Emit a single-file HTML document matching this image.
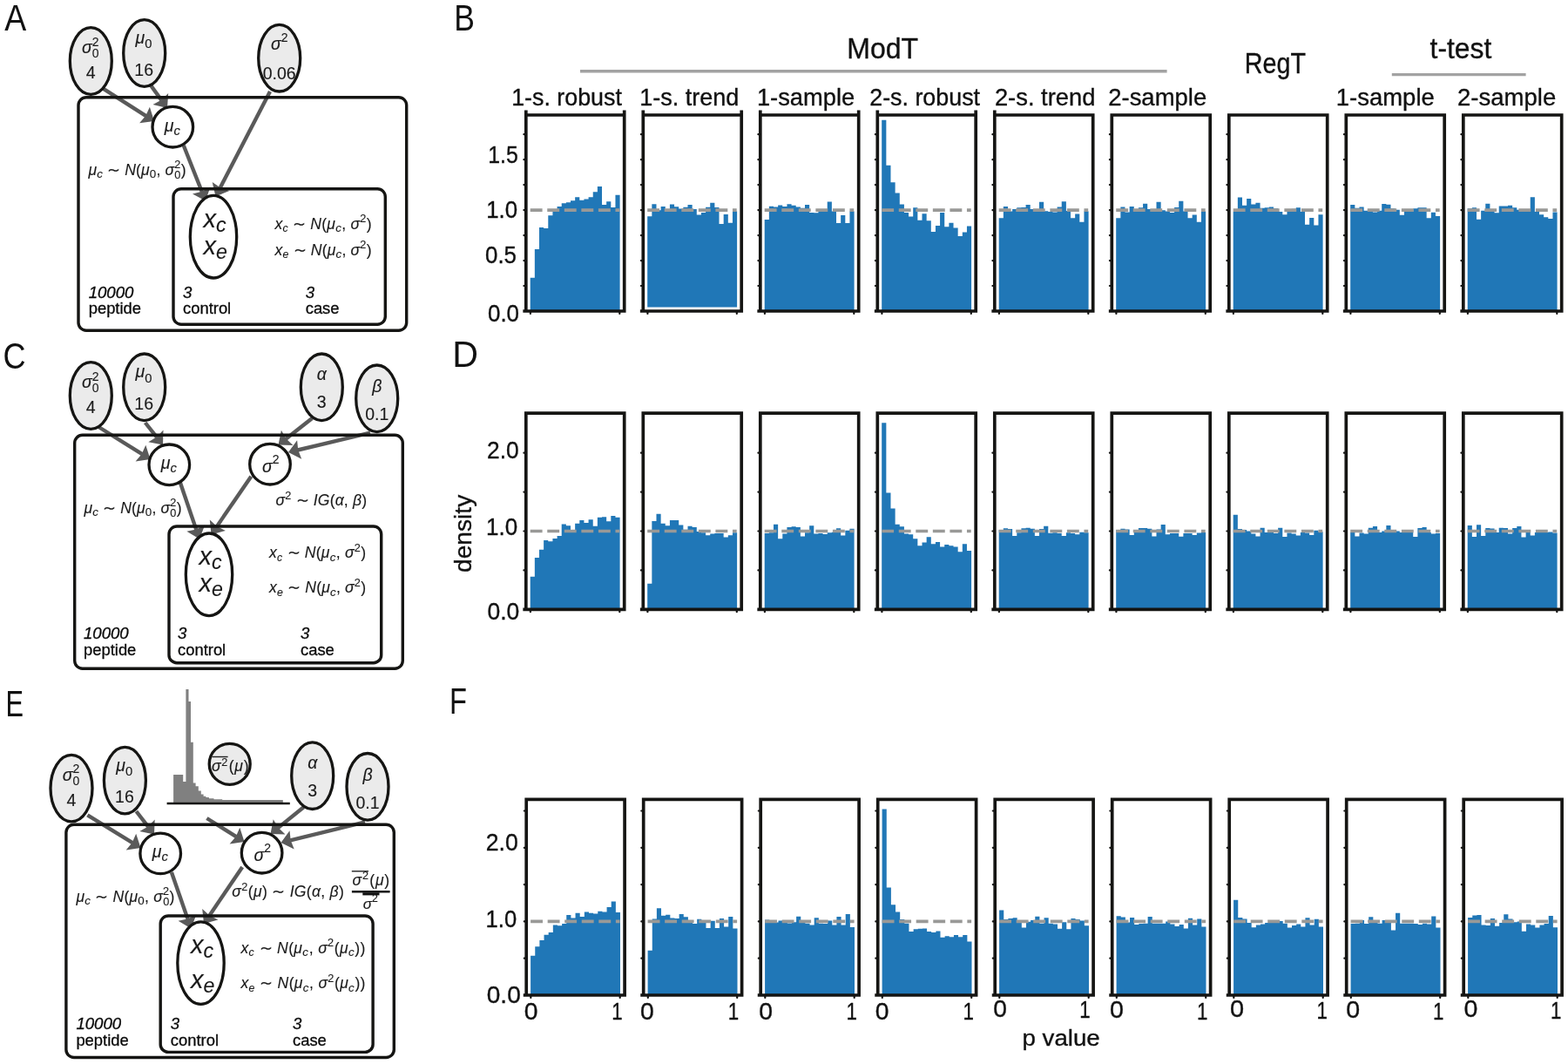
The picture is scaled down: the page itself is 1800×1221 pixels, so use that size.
<!DOCTYPE html>
<html lang="en">
<head>
<meta charset="utf-8">
<title>Figure: p value distributions under simulated models</title>
<style>
html,body{margin:0;padding:0;background:#fff;}
body{width:1800px;height:1221px;overflow:hidden;}
svg{display:block;}
text{font-family:'Liberation Sans', sans-serif;fill:#1a1a1a;}
text.m{fill:#1a1a1a;stroke:#1a1a1a;stroke-width:0.12px;}
text.mc{fill:#0a0a0a;stroke:#0a0a0a;stroke-width:0.3px;}
text.lab{fill:#111;stroke:#111;stroke-width:0.35px;}
text.pl{fill:#111;}
</style>
</head>
<body>
<svg width="1800" height="1221" viewBox="0 0 1800 1221">
<rect width="1800" height="1221" fill="#ffffff"/>
<g class="rowB">
<path d="M608.70,357.00L608.70,318.70L613.84,318.70L613.84,286.00L618.99,286.00L618.99,261.00L624.13,261.00L624.13,262.00L629.28,262.00L629.28,247.20L634.42,247.20L634.42,241.51L639.57,241.51L639.57,237.00L644.71,237.00L644.71,233.30L649.86,233.30L649.86,232.30L655.00,232.30L655.00,230.21L660.15,230.21L660.15,226.20L665.29,226.20L665.29,229.70L670.44,229.70L670.44,228.59L675.58,228.59L675.58,226.30L680.73,226.30L680.73,220.20L685.87,220.20L685.87,214.00L691.02,214.00L691.02,235.00L696.16,235.00L696.16,231.29L701.31,231.29L701.31,237.90L706.45,237.90L706.45,223.70L711.60,223.70L711.60,357.00Z" fill="#2077b7"/>
<line x1="608.70" y1="241.10" x2="711.20" y2="241.10" stroke="#999997" stroke-width="3.7" stroke-dasharray="13.9 5.65"/>
<path d="M601.95,132.00H718.55M600.35,357.00H718.55M603.80,126.50V357.00M716.70,126.50V357.00" stroke="#151513" stroke-width="3.7" fill="none"/>
<path d="M601.40,328.02H603.80M601.40,299.05H603.80M601.40,270.07H603.80M601.40,241.10H603.80M601.40,212.12H603.80M601.40,183.15H603.80M601.40,154.17H603.80M608.90,357.00V359.90M711.30,357.00V359.90" stroke="#151513" stroke-width="2.2" stroke-linecap="round" fill="none"/>
<path d="M743.20,352.40L743.20,248.30L748.34,248.30L748.34,234.30L753.49,234.30L753.49,241.30L758.63,241.30L758.63,237.00L763.78,237.00L763.78,241.20L768.92,241.20L768.92,234.51L774.07,234.51L774.07,237.21L779.21,237.21L779.21,239.50L784.36,239.50L784.36,237.80L789.50,237.80L789.50,235.10L794.65,235.10L794.65,239.89L799.79,239.89L799.79,246.50L804.94,246.50L804.94,244.00L810.08,244.00L810.08,237.80L815.23,237.80L815.23,232.70L820.37,232.70L820.37,238.01L825.52,238.01L825.52,257.00L830.66,257.00L830.66,245.90L835.81,245.90L835.81,255.70L840.95,255.70L840.95,242.50L846.10,242.50L846.10,352.40Z" fill="#2077b7"/>
<line x1="743.20" y1="241.10" x2="845.70" y2="241.10" stroke="#999997" stroke-width="3.7" stroke-dasharray="13.9 5.65"/>
<path d="M736.45,132.00H853.05M734.85,357.00H853.05M738.30,126.50V357.00M851.20,126.50V357.00" stroke="#151513" stroke-width="3.7" fill="none"/>
<path d="M735.90,328.02H738.30M735.90,299.05H738.30M735.90,270.07H738.30M735.90,241.10H738.30M735.90,212.12H738.30M735.90,183.15H738.30M735.90,154.17H738.30M743.40,357.00V359.90M845.80,357.00V359.90" stroke="#151513" stroke-width="2.2" stroke-linecap="round" fill="none"/>
<path d="M877.70,357.00L877.70,252.11L882.84,252.11L882.84,236.81L887.99,236.81L887.99,237.62L893.13,237.62L893.13,235.54L898.28,235.54L898.28,237.04L903.42,237.04L903.42,234.26L908.57,234.26L908.57,235.77L913.71,235.77L913.71,237.62L918.86,237.62L918.86,238.78L924.00,238.78L924.00,235.07L929.15,235.07L929.15,243.88L934.29,243.88L934.29,244.35L939.44,244.35L939.44,242.61L944.58,242.61L944.58,242.61L949.73,242.61L949.73,231.60L954.87,231.60L954.87,242.61L960.02,242.61L960.02,255.94L965.16,255.94L965.16,246.89L970.31,246.89L970.31,255.94L975.45,255.94L975.45,242.61L980.60,242.61L980.60,357.00Z" fill="#2077b7"/>
<line x1="877.70" y1="241.10" x2="980.20" y2="241.10" stroke="#999997" stroke-width="3.7" stroke-dasharray="13.9 5.65"/>
<path d="M870.95,132.00H987.55M869.35,357.00H987.55M872.80,126.50V357.00M985.70,126.50V357.00" stroke="#151513" stroke-width="3.7" fill="none"/>
<path d="M870.40,328.02H872.80M870.40,299.05H872.80M870.40,270.07H872.80M870.40,241.10H872.80M870.40,212.12H872.80M870.40,183.15H872.80M870.40,154.17H872.80M877.90,357.00V359.90M980.30,357.00V359.90" stroke="#151513" stroke-width="2.2" stroke-linecap="round" fill="none"/>
<path d="M1012.20,357.00L1012.20,137.72L1017.34,137.72L1017.34,189.76L1022.49,189.76L1022.49,209.23L1027.63,209.23L1027.63,221.51L1032.78,221.51L1032.78,234.61L1037.92,234.61L1037.92,243.88L1043.07,243.88L1043.07,248.40L1048.21,248.40L1048.21,238.32L1053.36,238.32L1053.36,252.69L1058.50,252.69L1058.50,245.16L1063.65,245.16L1063.65,253.15L1068.79,253.15L1068.79,266.02L1073.94,266.02L1073.94,258.95L1079.08,258.95L1079.08,243.88L1084.23,243.88L1084.23,260.22L1089.38,260.22L1089.38,255.70L1094.52,255.70L1094.52,261.50L1099.66,261.50L1099.66,271.00L1104.81,271.00L1104.81,266.48L1109.95,266.48L1109.95,259.41L1115.10,259.41L1115.10,357.00Z" fill="#2077b7"/>
<line x1="1012.20" y1="241.10" x2="1114.70" y2="241.10" stroke="#999997" stroke-width="3.7" stroke-dasharray="13.9 5.65"/>
<path d="M1005.45,132.00H1122.05M1003.85,357.00H1122.05M1007.30,126.50V357.00M1120.20,126.50V357.00" stroke="#151513" stroke-width="3.7" fill="none"/>
<path d="M1004.90,328.02H1007.30M1004.90,299.05H1007.30M1004.90,270.07H1007.30M1004.90,241.10H1007.30M1004.90,212.12H1007.30M1004.90,183.15H1007.30M1004.90,154.17H1007.30M1012.40,357.00V359.90M1114.80,357.00V359.90" stroke="#151513" stroke-width="2.2" stroke-linecap="round" fill="none"/>
<path d="M1146.70,357.00L1146.70,250.14L1151.85,250.14L1151.85,237.04L1156.99,237.04L1156.99,242.61L1162.13,242.61L1162.13,240.06L1167.28,240.06L1167.28,238.32L1172.42,238.32L1172.42,238.09L1177.57,238.09L1177.57,235.07L1182.71,235.07L1182.71,240.06L1187.86,240.06L1187.86,241.33L1193.00,241.33L1193.00,231.83L1198.15,231.83L1198.15,242.14L1203.30,242.14L1203.30,243.07L1208.44,243.07L1208.44,243.42L1213.59,243.42L1213.59,237.62L1218.73,237.62L1218.73,231.25L1223.88,231.25L1223.88,241.91L1229.02,241.91L1229.02,250.14L1234.16,250.14L1234.16,245.62L1239.31,245.62L1239.31,254.66L1244.45,254.66L1244.45,242.61L1249.60,242.61L1249.60,357.00Z" fill="#2077b7"/>
<line x1="1146.70" y1="241.10" x2="1249.20" y2="241.10" stroke="#999997" stroke-width="3.7" stroke-dasharray="13.9 5.65"/>
<path d="M1139.95,132.00H1256.55M1138.35,357.00H1256.55M1141.80,126.50V357.00M1254.70,132.00V357.00" stroke="#151513" stroke-width="3.7" fill="none"/>
<path d="M1139.40,328.02H1141.80M1139.40,299.05H1141.80M1139.40,270.07H1141.80M1139.40,241.10H1141.80M1139.40,212.12H1141.80M1139.40,183.15H1141.80M1139.40,154.17H1141.80M1146.90,357.00V359.90M1249.30,357.00V359.90" stroke="#151513" stroke-width="2.2" stroke-linecap="round" fill="none"/>
<path d="M1281.20,357.00L1281.20,250.14L1286.35,250.14L1286.35,237.62L1291.49,237.62L1291.49,243.42L1296.63,243.42L1296.63,237.04L1301.78,237.04L1301.78,240.06L1306.92,240.06L1306.92,238.32L1312.07,238.32L1312.07,233.80L1317.21,233.80L1317.21,240.06L1322.36,240.06L1322.36,241.91L1327.50,241.91L1327.50,231.83L1332.65,231.83L1332.65,241.33L1337.80,241.33L1337.80,242.61L1342.94,242.61L1342.94,243.88L1348.09,243.88L1348.09,238.09L1353.23,238.09L1353.23,230.78L1358.38,230.78L1358.38,242.61L1363.52,242.61L1363.52,250.14L1368.66,250.14L1368.66,246.43L1373.81,246.43L1373.81,254.66L1378.95,254.66L1378.95,242.61L1384.10,242.61L1384.10,357.00Z" fill="#2077b7"/>
<line x1="1281.20" y1="241.10" x2="1383.70" y2="241.10" stroke="#999997" stroke-width="3.7" stroke-dasharray="13.9 5.65"/>
<path d="M1274.45,132.00H1391.05M1272.85,357.00H1391.05M1276.30,132.00V357.00M1389.20,132.00V357.00" stroke="#151513" stroke-width="3.7" fill="none"/>
<path d="M1273.90,328.02H1276.30M1273.90,299.05H1276.30M1273.90,270.07H1276.30M1273.90,241.10H1276.30M1273.90,212.12H1276.30M1273.90,183.15H1276.30M1273.90,154.17H1276.30M1281.40,357.00V359.90M1383.80,357.00V359.90" stroke="#151513" stroke-width="2.2" stroke-linecap="round" fill="none"/>
<path d="M1415.70,357.00L1415.70,243.07L1420.85,243.07L1420.85,226.61L1425.99,226.61L1425.99,235.65L1431.13,235.65L1431.13,227.89L1436.28,227.89L1436.28,234.49L1441.42,234.49L1441.42,232.76L1446.57,232.76L1446.57,238.67L1451.71,238.67L1451.71,238.20L1456.86,238.20L1456.86,237.39L1462.00,237.39L1462.00,239.36L1467.15,239.36L1467.15,243.07L1472.30,243.07L1472.30,246.20L1477.44,246.20L1477.44,243.07L1482.59,243.07L1482.59,239.83L1487.73,239.83L1487.73,238.20L1492.88,238.20L1492.88,243.07L1498.02,243.07L1498.02,257.79L1503.16,257.79L1503.16,249.91L1508.31,249.91L1508.31,258.49L1513.45,258.49L1513.45,246.20L1518.60,246.20L1518.60,357.00Z" fill="#2077b7"/>
<line x1="1415.70" y1="241.10" x2="1518.20" y2="241.10" stroke="#999997" stroke-width="3.7" stroke-dasharray="13.9 5.65"/>
<path d="M1408.95,132.00H1525.55M1407.35,357.00H1525.55M1410.80,132.00V357.00M1523.70,132.00V357.00" stroke="#151513" stroke-width="3.7" fill="none"/>
<path d="M1408.40,328.02H1410.80M1408.40,299.05H1410.80M1408.40,270.07H1410.80M1408.40,241.10H1410.80M1408.40,212.12H1410.80M1408.40,183.15H1410.80M1408.40,154.17H1410.80M1415.90,357.00V359.90M1518.30,357.00V359.90" stroke="#151513" stroke-width="2.2" stroke-linecap="round" fill="none"/>
<path d="M1550.20,357.00L1550.20,234.96L1555.35,234.96L1555.35,238.67L1560.49,238.67L1560.49,237.39L1565.63,237.39L1565.63,241.80L1570.78,241.80L1570.78,243.07L1575.92,243.07L1575.92,243.53L1581.07,243.53L1581.07,241.80L1586.21,241.80L1586.21,234.03L1591.36,234.03L1591.36,234.73L1596.50,234.73L1596.50,239.36L1601.65,239.36L1601.65,240.64L1606.80,240.64L1606.80,246.78L1611.94,246.78L1611.94,243.07L1617.09,243.07L1617.09,243.07L1622.23,243.07L1622.23,239.36L1627.38,239.36L1627.38,238.20L1632.52,238.20L1632.52,238.20L1637.66,238.20L1637.66,250.37L1642.81,250.37L1642.81,243.77L1647.95,243.77L1647.95,247.94L1653.10,247.94L1653.10,357.00Z" fill="#2077b7"/>
<line x1="1550.20" y1="241.10" x2="1652.70" y2="241.10" stroke="#999997" stroke-width="3.7" stroke-dasharray="13.9 5.65"/>
<path d="M1543.45,132.00H1660.05M1541.85,357.00H1660.05M1545.30,132.00V357.00M1658.20,132.00V357.00" stroke="#151513" stroke-width="3.7" fill="none"/>
<path d="M1542.90,328.02H1545.30M1542.90,299.05H1545.30M1542.90,270.07H1545.30M1542.90,241.10H1545.30M1542.90,212.12H1545.30M1542.90,183.15H1545.30M1542.90,154.17H1545.30M1550.40,357.00V359.90M1652.80,357.00V359.90" stroke="#151513" stroke-width="2.2" stroke-linecap="round" fill="none"/>
<path d="M1684.70,357.00L1684.70,239.36L1689.85,239.36L1689.85,238.20L1694.99,238.20L1694.99,251.65L1700.13,251.65L1700.13,241.80L1705.28,241.80L1705.28,233.80L1710.42,233.80L1710.42,241.80L1715.57,241.80L1715.57,244.23L1720.71,244.23L1720.71,236.46L1725.86,236.46L1725.86,236.46L1731.00,236.46L1731.00,235.65L1736.15,235.65L1736.15,238.20L1741.30,238.20L1741.30,240.64L1746.44,240.64L1746.44,243.07L1751.59,243.07L1751.59,243.07L1756.73,243.07L1756.73,226.15L1761.88,226.15L1761.88,243.07L1767.02,243.07L1767.02,246.20L1772.16,246.20L1772.16,249.21L1777.31,249.21L1777.31,250.95L1782.45,250.95L1782.45,243.53L1787.60,243.53L1787.60,357.00Z" fill="#2077b7"/>
<line x1="1684.70" y1="241.10" x2="1787.20" y2="241.10" stroke="#999997" stroke-width="3.7" stroke-dasharray="13.9 5.65"/>
<path d="M1677.95,132.00H1794.55M1676.35,357.00H1794.55M1679.80,132.00V357.00M1792.70,132.00V357.00" stroke="#151513" stroke-width="3.7" fill="none"/>
<path d="M1677.40,328.02H1679.80M1677.40,299.05H1679.80M1677.40,270.07H1679.80M1677.40,241.10H1679.80M1677.40,212.12H1679.80M1677.40,183.15H1679.80M1677.40,154.17H1679.80M1684.90,357.00V359.90M1787.30,357.00V359.90" stroke="#151513" stroke-width="2.2" stroke-linecap="round" fill="none"/>
</g>
<g class="rowD">
<path d="M608.70,699.30L608.70,661.85L613.84,661.85L613.84,640.03L618.99,640.03L618.99,630.69L624.13,630.69L624.13,620.01L629.28,620.01L629.28,621.17L634.42,621.17L634.42,617.94L639.57,617.94L639.57,614.89L644.71,614.89L644.71,601.42L649.86,601.42L649.86,603.21L655.00,603.21L655.00,609.50L660.15,609.50L660.15,600.79L665.29,600.79L665.29,596.93L670.44,596.93L670.44,600.07L675.58,600.07L675.58,596.30L680.73,596.30L680.73,603.75L685.87,603.75L685.87,593.78L691.02,593.78L691.02,593.34L696.16,593.34L696.16,598.27L701.31,598.27L701.31,592.08L706.45,592.08L706.45,593.78L711.60,593.78L711.60,699.30Z" fill="#2077b7"/>
<line x1="608.70" y1="609.50" x2="711.20" y2="609.50" stroke="#999997" stroke-width="3.7" stroke-dasharray="13.9 5.65"/>
<path d="M601.95,474.20H718.55M600.35,699.30H718.55M603.80,474.20V699.30M716.70,474.20V699.30" stroke="#151513" stroke-width="3.7" fill="none"/>
<path d="M601.40,654.40H603.80M601.40,609.50H603.80M601.40,564.60H603.80M601.40,519.70H603.80M608.90,699.30V702.20M711.30,699.30V702.20" stroke="#151513" stroke-width="2.2" stroke-linecap="round" fill="none"/>
<path d="M743.20,699.30L743.20,669.85L748.34,669.85L748.34,598.01L753.49,598.01L753.49,589.74L758.63,589.74L758.63,600.79L763.78,600.79L763.78,603.21L768.92,603.21L768.92,597.02L774.07,597.02L774.07,597.02L779.21,597.02L779.21,602.50L784.36,602.50L784.36,607.70L789.50,607.70L789.50,603.75L794.65,603.75L794.65,605.01L799.79,605.01L799.79,610.04L804.94,610.04L804.94,611.30L810.08,611.30L810.08,614.26L815.23,614.26L815.23,612.46L820.37,612.46L820.37,612.01L825.52,612.01L825.52,612.01L830.66,612.01L830.66,616.50L835.81,616.50L835.81,614.26L840.95,614.26L840.95,611.30L846.10,611.30L846.10,699.30Z" fill="#2077b7"/>
<line x1="743.20" y1="609.50" x2="845.70" y2="609.50" stroke="#999997" stroke-width="3.7" stroke-dasharray="13.9 5.65"/>
<path d="M736.45,474.20H853.05M734.85,699.30H853.05M738.30,474.20V699.30M851.20,474.20V699.30" stroke="#151513" stroke-width="3.7" fill="none"/>
<path d="M735.90,654.40H738.30M735.90,609.50H738.30M735.90,564.60H738.30M735.90,519.70H738.30M743.40,699.30V702.20M845.80,699.30V702.20" stroke="#151513" stroke-width="2.2" stroke-linecap="round" fill="none"/>
<path d="M877.70,699.30L877.70,612.01L882.84,612.01L882.84,611.30L887.99,611.30L887.99,601.78L893.13,601.78L893.13,618.21L898.28,618.21L898.28,612.46L903.42,612.46L903.42,605.01L908.57,605.01L908.57,604.29L913.71,604.29L913.71,605.01L918.86,605.01L918.86,615.52L924.00,615.52L924.00,611.30L929.15,611.30L929.15,603.21L934.29,603.21L934.29,612.46L939.44,612.46L939.44,612.01L944.58,612.01L944.58,613.00L949.73,613.00L949.73,611.30L954.87,611.30L954.87,610.76L960.02,610.76L960.02,606.27L965.16,606.27L965.16,614.53L970.31,614.53L970.31,608.78L975.45,608.78L975.45,606.81L980.60,606.81L980.60,699.30Z" fill="#2077b7"/>
<line x1="877.70" y1="609.50" x2="980.20" y2="609.50" stroke="#999997" stroke-width="3.7" stroke-dasharray="13.9 5.65"/>
<path d="M870.95,474.20H987.55M869.35,699.30H987.55M872.80,474.20V699.30M985.70,474.20V699.30" stroke="#151513" stroke-width="3.7" fill="none"/>
<path d="M870.40,654.40H872.80M870.40,609.50H872.80M870.40,564.60H872.80M870.40,519.70H872.80M877.90,699.30V702.20M980.30,699.30V702.20" stroke="#151513" stroke-width="2.2" stroke-linecap="round" fill="none"/>
<path d="M1012.20,699.30L1012.20,485.31L1017.34,485.31L1017.34,565.59L1022.49,565.59L1022.49,583.46L1027.63,583.46L1027.63,601.78L1032.78,601.78L1032.78,604.29L1037.92,604.29L1037.92,612.46L1043.07,612.46L1043.07,613.27L1048.21,613.27L1048.21,618.21L1053.36,618.21L1053.36,626.20L1058.50,626.20L1058.50,622.43L1063.65,622.43L1063.65,616.24L1068.79,616.24L1068.79,624.23L1073.94,624.23L1073.94,621.98L1079.08,621.98L1079.08,627.46L1084.23,627.46L1084.23,624.95L1089.38,624.95L1089.38,626.20L1094.52,626.20L1094.52,627.46L1099.66,627.46L1099.66,633.21L1104.81,633.21L1104.81,624.23L1109.95,624.23L1109.95,631.95L1115.10,631.95L1115.10,699.30Z" fill="#2077b7"/>
<line x1="1012.20" y1="609.50" x2="1114.70" y2="609.50" stroke="#999997" stroke-width="3.7" stroke-dasharray="13.9 5.65"/>
<path d="M1005.45,474.20H1122.05M1003.85,699.30H1122.05M1007.30,474.20V699.30M1120.20,474.20V699.30" stroke="#151513" stroke-width="3.7" fill="none"/>
<path d="M1004.90,654.40H1007.30M1004.90,609.50H1007.30M1004.90,564.60H1007.30M1004.90,519.70H1007.30M1012.40,699.30V702.20M1114.80,699.30V702.20" stroke="#151513" stroke-width="2.2" stroke-linecap="round" fill="none"/>
<path d="M1146.70,699.30L1146.70,607.97L1151.85,607.97L1151.85,606.27L1156.99,606.27L1156.99,606.99L1162.13,606.99L1162.13,614.98L1167.28,614.98L1167.28,611.30L1172.42,611.30L1172.42,606.27L1177.57,606.27L1177.57,605.73L1182.71,605.73L1182.71,606.81L1187.86,606.81L1187.86,614.98L1193.00,614.98L1193.00,606.99L1198.15,606.99L1198.15,603.75L1203.30,603.75L1203.30,611.75L1208.44,611.75L1208.44,611.30L1213.59,611.30L1213.59,612.01L1218.73,612.01L1218.73,614.98L1223.88,614.98L1223.88,611.30L1229.02,611.30L1229.02,612.01L1234.16,612.01L1234.16,613.27L1239.31,613.27L1239.31,610.76L1244.45,610.76L1244.45,611.30L1249.60,611.30L1249.60,699.30Z" fill="#2077b7"/>
<line x1="1146.70" y1="609.50" x2="1249.20" y2="609.50" stroke="#999997" stroke-width="3.7" stroke-dasharray="13.9 5.65"/>
<path d="M1139.95,474.20H1256.55M1138.35,699.30H1256.55M1141.80,474.20V699.30M1254.70,474.20V699.30" stroke="#151513" stroke-width="3.7" fill="none"/>
<path d="M1139.40,654.40H1141.80M1139.40,609.50H1141.80M1139.40,564.60H1141.80M1139.40,519.70H1141.80M1146.90,699.30V702.20M1249.30,699.30V702.20" stroke="#151513" stroke-width="2.2" stroke-linecap="round" fill="none"/>
<path d="M1281.20,699.30L1281.20,607.97L1286.35,607.97L1286.35,606.81L1291.49,606.81L1291.49,607.43L1296.63,607.43L1296.63,613.99L1301.78,613.99L1301.78,607.97L1306.92,607.97L1306.92,605.91L1312.07,605.91L1312.07,605.91L1317.21,605.91L1317.21,606.81L1322.36,606.81L1322.36,615.52L1327.50,615.52L1327.50,607.43L1332.65,607.43L1332.65,602.05L1337.80,602.05L1337.80,613.36L1342.94,613.36L1342.94,611.92L1348.09,611.92L1348.09,611.92L1353.23,611.92L1353.23,615.79L1358.38,615.79L1358.38,611.92L1363.52,611.92L1363.52,611.92L1368.66,611.92L1368.66,613.99L1373.81,613.99L1373.81,611.57L1378.95,611.57L1378.95,611.03L1384.10,611.03L1384.10,699.30Z" fill="#2077b7"/>
<line x1="1281.20" y1="609.50" x2="1383.70" y2="609.50" stroke="#999997" stroke-width="3.7" stroke-dasharray="13.9 5.65"/>
<path d="M1274.45,474.20H1391.05M1272.85,699.30H1391.05M1276.30,474.20V699.30M1389.20,474.20V699.30" stroke="#151513" stroke-width="3.7" fill="none"/>
<path d="M1273.90,654.40H1276.30M1273.90,609.50H1276.30M1273.90,564.60H1276.30M1273.90,519.70H1276.30M1281.40,699.30V702.20M1383.80,699.30V702.20" stroke="#151513" stroke-width="2.2" stroke-linecap="round" fill="none"/>
<path d="M1415.70,699.30L1415.70,590.64L1420.85,590.64L1420.85,607.08L1425.99,607.08L1425.99,607.97L1431.13,607.97L1431.13,609.50L1436.28,609.50L1436.28,612.46L1441.42,612.46L1441.42,615.52L1446.57,615.52L1446.57,605.64L1451.71,605.64L1451.71,611.03L1456.86,611.03L1456.86,611.03L1462.00,611.03L1462.00,611.92L1467.15,611.92L1467.15,605.64L1472.30,605.64L1472.30,616.06L1477.44,616.06L1477.44,611.57L1482.59,611.57L1482.59,612.46L1487.73,612.46L1487.73,614.62L1492.88,614.62L1492.88,611.03L1498.02,611.03L1498.02,611.57L1503.16,611.57L1503.16,613.99L1508.31,613.99L1508.31,608.87L1513.45,608.87L1513.45,610.13L1518.60,610.13L1518.60,699.30Z" fill="#2077b7"/>
<line x1="1415.70" y1="609.50" x2="1518.20" y2="609.50" stroke="#999997" stroke-width="3.7" stroke-dasharray="13.9 5.65"/>
<path d="M1408.95,474.20H1525.55M1407.35,699.30H1525.55M1410.80,474.20V699.30M1523.70,474.20V699.30" stroke="#151513" stroke-width="3.7" fill="none"/>
<path d="M1408.40,654.40H1410.80M1408.40,609.50H1410.80M1408.40,564.60H1410.80M1408.40,519.70H1410.80M1415.90,699.30V702.20M1518.30,699.30V702.20" stroke="#151513" stroke-width="2.2" stroke-linecap="round" fill="none"/>
<path d="M1550.20,699.30L1550.20,611.03L1555.35,611.03L1555.35,615.52L1560.49,615.52L1560.49,611.57L1565.63,611.57L1565.63,612.46L1570.78,612.46L1570.78,605.64L1575.92,605.64L1575.92,604.11L1581.07,604.11L1581.07,611.03L1586.21,611.03L1586.21,609.50L1591.36,609.50L1591.36,602.94L1596.50,602.94L1596.50,607.97L1601.65,607.97L1601.65,609.50L1606.80,609.50L1606.80,611.03L1611.94,611.03L1611.94,611.03L1617.09,611.03L1617.09,611.03L1622.23,611.03L1622.23,616.06L1627.38,616.06L1627.38,605.91L1632.52,605.91L1632.52,605.01L1637.66,605.01L1637.66,611.03L1642.81,611.03L1642.81,612.46L1647.95,612.46L1647.95,611.92L1653.10,611.92L1653.10,699.30Z" fill="#2077b7"/>
<line x1="1550.20" y1="609.50" x2="1652.70" y2="609.50" stroke="#999997" stroke-width="3.7" stroke-dasharray="13.9 5.65"/>
<path d="M1543.45,474.20H1660.05M1541.85,699.30H1660.05M1545.30,474.20V699.30M1658.20,474.20V699.30" stroke="#151513" stroke-width="3.7" fill="none"/>
<path d="M1542.90,654.40H1545.30M1542.90,609.50H1545.30M1542.90,564.60H1545.30M1542.90,519.70H1545.30M1550.40,699.30V702.20M1652.80,699.30V702.20" stroke="#151513" stroke-width="2.2" stroke-linecap="round" fill="none"/>
<path d="M1684.70,699.30L1684.70,602.94L1689.85,602.94L1689.85,616.06L1694.99,616.06L1694.99,602.32L1700.13,602.32L1700.13,614.89L1705.28,614.89L1705.28,605.91L1710.42,605.91L1710.42,606.54L1715.57,606.54L1715.57,611.03L1720.71,611.03L1720.71,605.64L1725.86,605.64L1725.86,605.91L1731.00,605.91L1731.00,612.46L1736.15,612.46L1736.15,605.91L1741.30,605.91L1741.30,604.11L1746.44,604.11L1746.44,616.41L1751.59,616.41L1751.59,611.03L1756.73,611.03L1756.73,614.62L1761.88,614.62L1761.88,611.03L1767.02,611.03L1767.02,611.03L1772.16,611.03L1772.16,611.03L1777.31,611.03L1777.31,610.40L1782.45,610.40L1782.45,611.57L1787.60,611.57L1787.60,699.30Z" fill="#2077b7"/>
<line x1="1684.70" y1="609.50" x2="1787.20" y2="609.50" stroke="#999997" stroke-width="3.7" stroke-dasharray="13.9 5.65"/>
<path d="M1677.95,474.20H1794.55M1676.35,699.30H1794.55M1679.80,474.20V699.30M1792.70,474.20V699.30" stroke="#151513" stroke-width="3.7" fill="none"/>
<path d="M1677.40,654.40H1679.80M1677.40,609.50H1679.80M1677.40,564.60H1679.80M1677.40,519.70H1679.80M1684.90,699.30V702.20M1787.30,699.30V702.20" stroke="#151513" stroke-width="2.2" stroke-linecap="round" fill="none"/>
</g>
<g class="rowF">
<path d="M609.10,1142.00L609.10,1096.82L614.25,1096.82L614.25,1086.33L619.39,1086.33L619.39,1078.89L624.53,1078.89L624.53,1072.63L629.68,1072.63L629.68,1070.09L634.83,1070.09L634.83,1061.38L639.97,1061.38L639.97,1062.14L645.12,1062.14L645.12,1060.11L650.26,1060.11L650.26,1050.12L655.40,1050.12L655.40,1053.42L660.55,1053.42L660.55,1047.67L665.70,1047.67L665.70,1051.90L670.84,1051.90L670.84,1046.40L675.99,1046.40L675.99,1047.67L681.13,1047.67L681.13,1048.43L686.27,1048.43L686.27,1045.64L691.42,1045.64L691.42,1046.40L696.57,1046.40L696.57,1040.90L701.71,1040.90L701.71,1034.47L706.86,1034.47L706.86,1046.91L712.00,1046.91L712.00,1142.00Z" fill="#2077b7"/>
<line x1="609.10" y1="1057.40" x2="711.60" y2="1057.40" stroke="#999997" stroke-width="3.7" stroke-dasharray="13.9 5.65"/>
<path d="M602.35,917.30H718.95M600.75,1142.00H718.95M604.20,917.30V1142.00M717.10,917.30V1142.00" stroke="#151513" stroke-width="3.7" fill="none"/>
<path d="M601.80,1099.70H604.20M601.80,1057.40H604.20M601.80,1015.10H604.20M601.80,972.80H604.20M601.80,930.50H604.20M609.30,1142.00V1144.90M711.70,1142.00V1144.90" stroke="#151513" stroke-width="2.2" stroke-linecap="round" fill="none"/>
<path d="M743.60,1142.00L743.60,1090.82L748.75,1090.82L748.75,1054.44L753.89,1054.44L753.89,1042.17L759.03,1042.17L759.03,1050.63L764.18,1050.63L764.18,1049.70L769.33,1049.70L769.33,1053.42L774.47,1053.42L774.47,1053.93L779.62,1053.93L779.62,1048.94L784.76,1048.94L784.76,1052.15L789.90,1052.15L789.90,1058.92L795.05,1058.92L795.05,1060.11L800.20,1060.11L800.20,1054.69L805.34,1054.69L805.34,1055.88L810.49,1055.88L810.49,1065.10L815.63,1065.10L815.63,1056.64L820.77,1056.64L820.77,1065.10L825.92,1065.10L825.92,1053.93L831.07,1053.93L831.07,1063.41L836.21,1063.41L836.21,1051.90L841.36,1051.90L841.36,1065.61L846.50,1065.61L846.50,1142.00Z" fill="#2077b7"/>
<line x1="743.60" y1="1057.40" x2="846.10" y2="1057.40" stroke="#999997" stroke-width="3.7" stroke-dasharray="13.9 5.65"/>
<path d="M736.85,917.30H853.45M735.25,1142.00H853.45M738.70,917.30V1142.00M851.60,917.30V1142.00" stroke="#151513" stroke-width="3.7" fill="none"/>
<path d="M736.30,1099.70H738.70M736.30,1057.40H738.70M736.30,1015.10H738.70M736.30,972.80H738.70M736.30,930.50H738.70M743.80,1142.00V1144.90M846.20,1142.00V1144.90" stroke="#151513" stroke-width="2.2" stroke-linecap="round" fill="none"/>
<path d="M878.10,1142.00L878.10,1055.62L883.25,1055.62L883.25,1055.88L888.39,1055.88L888.39,1058.42L893.53,1058.42L893.53,1056.38L898.68,1056.38L898.68,1058.92L903.83,1058.92L903.83,1059.43L908.97,1059.43L908.97,1058.16L914.12,1058.16L914.12,1051.65L919.26,1051.65L919.26,1058.92L924.40,1058.92L924.40,1059.68L929.55,1059.68L929.55,1061.38L934.70,1061.38L934.70,1053.17L939.84,1053.17L939.84,1059.68L944.99,1059.68L944.99,1060.11L950.13,1060.11L950.13,1056.38L955.27,1056.38L955.27,1061.38L960.42,1061.38L960.42,1051.90L965.57,1051.90L965.57,1061.38L970.71,1061.38L970.71,1048.94L975.86,1048.94L975.86,1063.91L981.00,1063.91L981.00,1142.00Z" fill="#2077b7"/>
<line x1="878.10" y1="1057.40" x2="980.60" y2="1057.40" stroke="#999997" stroke-width="3.7" stroke-dasharray="13.9 5.65"/>
<path d="M871.35,917.30H987.95M869.75,1142.00H987.95M873.20,917.30V1142.00M986.10,917.30V1142.00" stroke="#151513" stroke-width="3.7" fill="none"/>
<path d="M870.80,1099.70H873.20M870.80,1057.40H873.20M870.80,1015.10H873.20M870.80,972.80H873.20M870.80,930.50H873.20M878.30,1142.00V1144.90M980.70,1142.00V1144.90" stroke="#151513" stroke-width="2.2" stroke-linecap="round" fill="none"/>
<path d="M1012.60,1142.00L1012.60,928.39L1017.75,928.39L1017.75,1018.48L1022.89,1018.48L1022.89,1038.20L1028.04,1038.20L1028.04,1046.40L1033.18,1046.40L1033.18,1055.12L1038.33,1055.12L1038.33,1059.68L1043.47,1059.68L1043.47,1068.91L1048.62,1068.91L1048.62,1066.37L1053.76,1066.37L1053.76,1065.86L1058.90,1065.86L1058.90,1065.61L1064.05,1065.61L1064.05,1068.91L1069.19,1068.91L1069.19,1070.09L1074.34,1070.09L1074.34,1068.40L1079.48,1068.40L1079.48,1075.84L1084.63,1075.84L1084.63,1074.32L1089.78,1074.32L1089.78,1075.17L1094.92,1075.17L1094.92,1072.88L1100.07,1072.88L1100.07,1075.17L1105.21,1075.17L1105.21,1072.88L1110.36,1072.88L1110.36,1080.58L1115.50,1080.58L1115.50,1142.00Z" fill="#2077b7"/>
<line x1="1012.60" y1="1057.40" x2="1115.10" y2="1057.40" stroke="#999997" stroke-width="3.7" stroke-dasharray="13.9 5.65"/>
<path d="M1005.85,917.30H1122.45M1004.25,1142.00H1122.45M1007.70,917.30V1142.00M1120.60,917.30V1142.00" stroke="#151513" stroke-width="3.7" fill="none"/>
<path d="M1005.30,1099.70H1007.70M1005.30,1057.40H1007.70M1005.30,1015.10H1007.70M1005.30,972.80H1007.70M1005.30,930.50H1007.70M1012.80,1142.00V1144.90M1115.20,1142.00V1144.90" stroke="#151513" stroke-width="2.2" stroke-linecap="round" fill="none"/>
<path d="M1147.10,1142.00L1147.10,1044.46L1152.25,1044.46L1152.25,1055.12L1157.39,1055.12L1157.39,1053.93L1162.54,1053.93L1162.54,1053.17L1167.68,1053.17L1167.68,1058.16L1172.83,1058.16L1172.83,1064.42L1177.97,1064.42L1177.97,1057.65L1183.12,1057.65L1183.12,1055.88L1188.26,1055.88L1188.26,1051.65L1193.40,1051.65L1193.40,1059.68L1198.55,1059.68L1198.55,1053.17L1203.70,1053.17L1203.70,1059.68L1208.84,1059.68L1208.84,1060.61L1213.99,1060.61L1213.99,1065.86L1219.13,1065.86L1219.13,1058.16L1224.28,1058.16L1224.28,1066.37L1229.42,1066.37L1229.42,1053.93L1234.57,1053.93L1234.57,1055.12L1239.71,1055.12L1239.71,1056.38L1244.86,1056.38L1244.86,1062.14L1250.00,1062.14L1250.00,1142.00Z" fill="#2077b7"/>
<line x1="1147.10" y1="1057.40" x2="1249.60" y2="1057.40" stroke="#999997" stroke-width="3.7" stroke-dasharray="13.9 5.65"/>
<path d="M1140.35,917.30H1256.95M1138.75,1142.00H1256.95M1142.20,917.30V1142.00M1255.10,917.30V1142.00" stroke="#151513" stroke-width="3.7" fill="none"/>
<path d="M1139.80,1099.70H1142.20M1139.80,1057.40H1142.20M1139.80,1015.10H1142.20M1139.80,972.80H1142.20M1139.80,930.50H1142.20M1147.30,1142.00V1144.90M1249.70,1142.00V1144.90" stroke="#151513" stroke-width="2.2" stroke-linecap="round" fill="none"/>
<path d="M1281.60,1142.00L1281.60,1051.22L1286.75,1051.22L1286.75,1052.49L1291.89,1052.49L1291.89,1058.42L1297.04,1058.42L1297.04,1053.09L1302.18,1053.09L1302.18,1061.12L1307.33,1061.12L1307.33,1059.94L1312.47,1059.94L1312.47,1059.68L1317.62,1059.68L1317.62,1051.90L1322.76,1051.90L1322.76,1059.68L1327.90,1059.68L1327.90,1059.68L1333.05,1059.68L1333.05,1059.68L1338.20,1059.68L1338.20,1057.57L1343.34,1057.57L1343.34,1060.53L1348.49,1060.53L1348.49,1062.90L1353.63,1062.90L1353.63,1061.12L1358.78,1061.12L1358.78,1065.61L1363.92,1065.61L1363.92,1053.68L1369.07,1053.68L1369.07,1061.46L1374.21,1061.46L1374.21,1054.52L1379.36,1054.52L1379.36,1063.58L1384.50,1063.58L1384.50,1142.00Z" fill="#2077b7"/>
<line x1="1281.60" y1="1057.40" x2="1384.10" y2="1057.40" stroke="#999997" stroke-width="3.7" stroke-dasharray="13.9 5.65"/>
<path d="M1274.85,917.30H1391.45M1273.25,1142.00H1391.45M1276.70,917.30V1142.00M1389.60,917.30V1142.00" stroke="#151513" stroke-width="3.7" fill="none"/>
<path d="M1274.30,1099.70H1276.70M1274.30,1057.40H1276.70M1274.30,1015.10H1276.70M1274.30,972.80H1276.70M1274.30,930.50H1276.70M1281.80,1142.00V1144.90M1384.20,1142.00V1144.90" stroke="#151513" stroke-width="2.2" stroke-linecap="round" fill="none"/>
<path d="M1416.10,1142.00L1416.10,1032.70L1421.25,1032.70L1421.25,1053.09L1426.39,1053.09L1426.39,1054.52L1431.54,1054.52L1431.54,1059.09L1436.68,1059.09L1436.68,1064.17L1441.83,1064.17L1441.83,1061.46L1446.97,1061.46L1446.97,1060.53L1452.12,1060.53L1452.12,1059.09L1457.26,1059.09L1457.26,1058.42L1462.40,1058.42L1462.40,1058.42L1467.55,1058.42L1467.55,1056.98L1472.70,1056.98L1472.70,1059.68L1477.84,1059.68L1477.84,1064.42L1482.99,1064.42L1482.99,1062.05L1488.13,1062.05L1488.13,1060.53L1493.28,1060.53L1493.28,1063.58L1498.42,1063.58L1498.42,1053.34L1503.57,1053.34L1503.57,1061.46L1508.71,1061.46L1508.71,1054.86L1513.86,1054.86L1513.86,1063.58L1519.00,1063.58L1519.00,1142.00Z" fill="#2077b7"/>
<line x1="1416.10" y1="1057.40" x2="1518.60" y2="1057.40" stroke="#999997" stroke-width="3.7" stroke-dasharray="13.9 5.65"/>
<path d="M1409.35,917.30H1525.95M1407.75,1142.00H1525.95M1411.20,917.30V1142.00M1524.10,917.30V1142.00" stroke="#151513" stroke-width="3.7" fill="none"/>
<path d="M1408.80,1099.70H1411.20M1408.80,1057.40H1411.20M1408.80,1015.10H1411.20M1408.80,972.80H1411.20M1408.80,930.50H1411.20M1416.30,1142.00V1144.90M1518.70,1142.00V1144.90" stroke="#151513" stroke-width="2.2" stroke-linecap="round" fill="none"/>
<path d="M1550.60,1142.00L1550.60,1059.94L1555.75,1059.94L1555.75,1059.68L1560.89,1059.68L1560.89,1056.05L1566.04,1056.05L1566.04,1059.94L1571.18,1059.94L1571.18,1052.15L1576.33,1052.15L1576.33,1059.09L1581.47,1059.09L1581.47,1059.68L1586.62,1059.68L1586.62,1056.05L1591.76,1056.05L1591.76,1059.09L1596.90,1059.09L1596.90,1067.47L1602.05,1067.47L1602.05,1047.67L1607.20,1047.67L1607.20,1059.68L1612.34,1059.68L1612.34,1059.68L1617.49,1059.68L1617.49,1059.68L1622.63,1059.68L1622.63,1059.94L1627.78,1059.94L1627.78,1061.12L1632.92,1061.12L1632.92,1059.68L1638.07,1059.68L1638.07,1060.53L1643.21,1060.53L1643.21,1051.56L1648.36,1051.56L1648.36,1064.42L1653.50,1064.42L1653.50,1142.00Z" fill="#2077b7"/>
<line x1="1550.60" y1="1057.40" x2="1653.10" y2="1057.40" stroke="#999997" stroke-width="3.7" stroke-dasharray="13.9 5.65"/>
<path d="M1543.85,917.30H1660.45M1542.25,1142.00H1660.45M1545.70,917.30V1142.00M1658.60,917.30V1142.00" stroke="#151513" stroke-width="3.7" fill="none"/>
<path d="M1543.30,1099.70H1545.70M1543.30,1057.40H1545.70M1543.30,1015.10H1545.70M1543.30,972.80H1545.70M1543.30,930.50H1545.70M1550.80,1142.00V1144.90M1653.20,1142.00V1144.90" stroke="#151513" stroke-width="2.2" stroke-linecap="round" fill="none"/>
<path d="M1685.10,1142.00L1685.10,1053.09L1690.25,1053.09L1690.25,1050.38L1695.39,1050.38L1695.39,1050.04L1700.54,1050.04L1700.54,1061.46L1705.68,1061.46L1705.68,1062.05L1710.83,1062.05L1710.83,1054.02L1715.97,1054.02L1715.97,1062.65L1721.12,1062.65L1721.12,1059.09L1726.26,1059.09L1726.26,1049.19L1731.40,1049.19L1731.40,1054.52L1736.55,1054.52L1736.55,1058.16L1741.70,1058.16L1741.70,1057.57L1746.84,1057.57L1746.84,1068.65L1751.99,1068.65L1751.99,1060.53L1757.13,1060.53L1757.13,1061.46L1762.28,1061.46L1762.28,1064.42L1767.42,1064.42L1767.42,1061.46L1772.57,1061.46L1772.57,1059.94L1777.71,1059.94L1777.71,1050.97L1782.86,1050.97L1782.86,1064.17L1788.00,1064.17L1788.00,1142.00Z" fill="#2077b7"/>
<line x1="1685.10" y1="1057.40" x2="1787.60" y2="1057.40" stroke="#999997" stroke-width="3.7" stroke-dasharray="13.9 5.65"/>
<path d="M1678.35,917.30H1794.95M1676.75,1142.00H1794.95M1680.20,917.30V1142.00M1793.10,917.30V1142.00" stroke="#151513" stroke-width="3.7" fill="none"/>
<path d="M1677.80,1099.70H1680.20M1677.80,1057.40H1680.20M1677.80,1015.10H1680.20M1677.80,972.80H1680.20M1677.80,930.50H1680.20M1685.30,1142.00V1144.90M1787.70,1142.00V1144.90" stroke="#151513" stroke-width="2.2" stroke-linecap="round" fill="none"/>
</g>
<text class="lab" x="560.21" y="187.00" font-size="27.5" textLength="34.59" lengthAdjust="spacingAndGlyphs">1.5</text>
<text class="lab" x="558.23" y="249.50" font-size="27.5" textLength="35.90" lengthAdjust="spacingAndGlyphs">1.0</text>
<text class="lab" x="557.06" y="301.50" font-size="27.5" textLength="35.97" lengthAdjust="spacingAndGlyphs">0.5</text>
<text class="lab" x="559.96" y="369.40" font-size="27.5" textLength="36.08" lengthAdjust="spacingAndGlyphs">0.0</text>
<text class="lab" x="558.98" y="526.00" font-size="27.5" textLength="36.68" lengthAdjust="spacingAndGlyphs">2.0</text>
<text class="lab" x="558.02" y="614.30" font-size="27.5" textLength="36.12" lengthAdjust="spacingAndGlyphs">1.0</text>
<text class="lab" x="559.54" y="711.10" font-size="27.5" textLength="36.82" lengthAdjust="spacingAndGlyphs">0.0</text>
<text class="lab" x="557.77" y="976.00" font-size="27.5" textLength="37.00" lengthAdjust="spacingAndGlyphs">2.0</text>
<text class="lab" x="557.55" y="1064.40" font-size="27.5" textLength="35.57" lengthAdjust="spacingAndGlyphs">1.0</text>
<text class="lab" x="558.78" y="1150.80" font-size="27.5" textLength="38.95" lengthAdjust="spacingAndGlyphs">0.0</text>
<text class="lab" x="601.77" y="1169.70" font-size="27.5" textLength="15.76" lengthAdjust="spacingAndGlyphs">0</text>
<text class="lab" x="735.07" y="1169.70" font-size="27.5" textLength="15.76" lengthAdjust="spacingAndGlyphs">0</text>
<text class="lab" x="871.37" y="1169.70" font-size="27.5" textLength="15.76" lengthAdjust="spacingAndGlyphs">0</text>
<text class="lab" x="1004.87" y="1169.70" font-size="27.5" textLength="15.76" lengthAdjust="spacingAndGlyphs">0</text>
<text class="lab" x="1140.38" y="1166.90" font-size="27.5" textLength="15.64" lengthAdjust="spacingAndGlyphs">0</text>
<text class="lab" x="1273.96" y="1167.70" font-size="27.5" textLength="15.88" lengthAdjust="spacingAndGlyphs">0</text>
<text class="lab" x="1412.14" y="1166.90" font-size="27.5" textLength="16.11" lengthAdjust="spacingAndGlyphs">0</text>
<text class="lab" x="1545.36" y="1167.70" font-size="27.5" textLength="15.88" lengthAdjust="spacingAndGlyphs">0</text>
<text class="lab" x="1680.46" y="1166.90" font-size="27.5" textLength="15.88" lengthAdjust="spacingAndGlyphs">0</text>
<text class="lab" x="702.21" y="1169.70" font-size="27.5" textLength="12.42" lengthAdjust="spacingAndGlyphs">1</text>
<text class="lab" x="835.71" y="1169.70" font-size="27.5" textLength="12.42" lengthAdjust="spacingAndGlyphs">1</text>
<text class="lab" x="971.51" y="1169.70" font-size="27.5" textLength="12.42" lengthAdjust="spacingAndGlyphs">1</text>
<text class="lab" x="1105.51" y="1169.70" font-size="27.5" textLength="12.42" lengthAdjust="spacingAndGlyphs">1</text>
<text class="lab" x="1239.21" y="1168.40" font-size="27.5" textLength="12.42" lengthAdjust="spacingAndGlyphs">1</text>
<text class="lab" x="1373.91" y="1169.60" font-size="27.5" textLength="12.42" lengthAdjust="spacingAndGlyphs">1</text>
<text class="lab" x="1511.41" y="1168.80" font-size="27.5" textLength="12.42" lengthAdjust="spacingAndGlyphs">1</text>
<text class="lab" x="1645.01" y="1169.80" font-size="27.5" textLength="12.42" lengthAdjust="spacingAndGlyphs">1</text>
<text class="lab" x="1779.91" y="1168.80" font-size="27.5" textLength="12.42" lengthAdjust="spacingAndGlyphs">1</text>
<text class="lab" x="1173.56" y="1200.40" font-size="26.5" textLength="89.17" lengthAdjust="spacingAndGlyphs">p value</text>
<text class="lab" transform="translate(540.6,656.93) rotate(-90)" font-size="27" textLength="89.17" lengthAdjust="spacingAndGlyphs">density</text>
<text class="lab" x="587.15" y="121.40" font-size="27.6" textLength="126.76" lengthAdjust="spacingAndGlyphs">1-s. robust</text>
<text class="lab" x="734.14" y="121.40" font-size="27.6" textLength="114.30" lengthAdjust="spacingAndGlyphs">1-s. trend</text>
<text class="lab" x="868.92" y="121.40" font-size="27.6" textLength="112.25" lengthAdjust="spacingAndGlyphs">1-sample</text>
<text class="lab" x="998.26" y="121.40" font-size="27.6" textLength="126.75" lengthAdjust="spacingAndGlyphs">2-s. robust</text>
<text class="lab" x="1141.93" y="121.40" font-size="27.6" textLength="115.42" lengthAdjust="spacingAndGlyphs">2-s. trend</text>
<text class="lab" x="1272.23" y="121.40" font-size="27.6" textLength="112.95" lengthAdjust="spacingAndGlyphs">2-sample</text>
<text class="lab" x="1533.80" y="121.40" font-size="27.6" textLength="112.97" lengthAdjust="spacingAndGlyphs">1-sample</text>
<text class="lab" x="1673.02" y="121.40" font-size="27.6" textLength="113.26" lengthAdjust="spacingAndGlyphs">2-sample</text>
<text class="lab" x="972.24" y="66.80" font-size="32.6" textLength="81.80" lengthAdjust="spacingAndGlyphs">ModT</text>
<text class="lab" x="1428.81" y="84.40" font-size="32.6" textLength="70.12" lengthAdjust="spacingAndGlyphs">RegT</text>
<text class="lab" x="1641.56" y="66.70" font-size="32.6" textLength="70.72" lengthAdjust="spacingAndGlyphs">t-test</text>
<path d="M666,81.8H1339.6M1597.8,85.6H1751.6" stroke="#a2a2a2" stroke-width="3.4" fill="none"/>
<text class="pl" x="5.20" y="34.80" font-size="43.3" textLength="24.96" lengthAdjust="spacingAndGlyphs">A</text>
<text class="pl" x="521.36" y="34.80" font-size="43.3" textLength="23.66" lengthAdjust="spacingAndGlyphs">B</text>
<text class="pl" x="3.50" y="423.00" font-size="43.3" textLength="26.02" lengthAdjust="spacingAndGlyphs">C</text>
<text class="pl" x="519.21" y="420.90" font-size="43.3" textLength="29.74" lengthAdjust="spacingAndGlyphs">D</text>
<text class="pl" x="6.54" y="821.90" font-size="43.3" textLength="20.51" lengthAdjust="spacingAndGlyphs">E</text>
<text class="pl" x="515.89" y="818.70" font-size="43.3" textLength="19.95" lengthAdjust="spacingAndGlyphs">F</text>
<g class="A">
<line x1="118.3" y1="101.7" x2="167.7" y2="133.1" stroke="#5a5a5a" stroke-width="4.4"/>
<polygon points="177.0,139.0 160.1,141.3 167.3,132.8 171.9,122.7" fill="#5a5a5a"/>
<line x1="173.3" y1="98.3" x2="185.5" y2="115.1" stroke="#5a5a5a" stroke-width="4.4"/>
<polygon points="192.0,124.0 175.5,120.0 185.2,114.7 193.2,107.0" fill="#5a5a5a"/>
<line x1="210.7" y1="166.7" x2="231.9" y2="220.3" stroke="#5a5a5a" stroke-width="4.4"/>
<polygon points="236.0,230.5 221.0,222.5 231.8,219.8 241.4,214.4" fill="#5a5a5a"/>
<line x1="310.0" y1="105.0" x2="252.6" y2="215.7" stroke="#5a5a5a" stroke-width="4.4"/>
<polygon points="247.5,225.5 243.7,208.9 252.8,215.3 263.3,219.0" fill="#5a5a5a"/>
<rect x="90" y="111.7" width="376.7" height="267.6" rx="9" ry="9" fill="none" stroke="#151513" stroke-width="3.4"/>
<rect x="199" y="216.7" width="243.3" height="155.6" rx="9" ry="9" fill="none" stroke="#151513" stroke-width="3.4"/>
<ellipse cx="104.3" cy="70" rx="24" ry="38.3" fill="#ebebeb" stroke="#151513" stroke-width="3.3"/>
<ellipse cx="165.7" cy="61" rx="24" ry="38.3" fill="#ebebeb" stroke="#151513" stroke-width="3.3"/>
<ellipse cx="320.7" cy="66.7" rx="24" ry="38.3" fill="#ebebeb" stroke="#151513" stroke-width="3.3"/>
<ellipse cx="198.3" cy="145.7" rx="23.3" ry="23.3" fill="#fff" stroke="#151513" stroke-width="3.3"/>
<ellipse cx="245" cy="271.7" rx="26.7" ry="47.3" fill="#fff" stroke="#151513" stroke-width="3.3"/>
<text x="94.0" y="61" font-size="19.5" text-anchor="start" class="m" ><tspan font-style="italic">σ</tspan><tspan dy="-8.2" font-size="14.0">2</tspan><tspan dx="-7.81" dy="13.3" font-size="14.0">0</tspan><tspan dy="-5.1" font-size="14.0">&#8203;</tspan></text>
<text x="104.3" y="90" font-size="19.5" text-anchor="middle" class="m" >4</text>
<text x="155.5" y="50" font-size="19.5" text-anchor="start" class="m" ><tspan font-style="italic">μ</tspan><tspan dy="5.3" font-size="14.8">0</tspan><tspan dy="-5.3" font-size="14.8">&#8203;</tspan></text>
<text x="165.2" y="86.5" font-size="19.5" text-anchor="middle" class="m" >16</text>
<text x="320.7" y="57.0" font-size="19.5" text-anchor="middle" class="m" ><tspan font-style="italic">σ</tspan><tspan dy="-9.0" font-size="14.0">2</tspan><tspan dy="9.0" font-size="14.0">&#8203;</tspan></text>
<text x="320.7" y="91.0" font-size="19.5" text-anchor="middle" class="m" >0.06</text>
<text x="188.8" y="150.7" font-size="19.5" text-anchor="start" class="m" ><tspan font-style="italic">μ</tspan><tspan dy="3.9" font-size="14.8"><tspan font-style="italic">c</tspan></tspan><tspan dy="-3.9" font-size="14.8">&#8203;</tspan></text>
<text x="233.5" y="261.2" font-size="29" text-anchor="start" class="m" ><tspan font-style="italic">x</tspan><tspan dy="4.9" font-size="23.2"><tspan font-style="italic">c</tspan></tspan><tspan dy="-4.9" font-size="23.2">&#8203;</tspan></text>
<text x="233.5" y="291.7" font-size="29" text-anchor="start" class="m" ><tspan font-style="italic">x</tspan><tspan dy="4.9" font-size="23.2"><tspan font-style="italic">e</tspan></tspan><tspan dy="-4.9" font-size="23.2">&#8203;</tspan></text>
<text x="101.5" y="200.5" font-size="17.6" class="m" textLength="112" lengthAdjust="spacing"><tspan font-style="italic">μ</tspan><tspan dy="3.5" font-size="13.4"><tspan font-style="italic">c</tspan></tspan><tspan dy="-3.5" font-size="13.4">&#8203;</tspan> ∼ <tspan font-style="italic">N</tspan>(<tspan font-style="italic">μ</tspan><tspan dy="3.5" font-size="13.4">0</tspan><tspan dy="-3.5" font-size="13.4">&#8203;</tspan>, <tspan font-style="italic">σ</tspan><tspan dy="-7.4" font-size="12.7">2</tspan><tspan dx="-7.05" dy="12.0" font-size="12.7">0</tspan><tspan dy="-4.6" font-size="12.7">&#8203;</tspan>)</text>
<text x="315.5" y="262.5" font-size="17.6" class="m" textLength="111" lengthAdjust="spacing"><tspan font-style="italic">x</tspan><tspan dy="3.5" font-size="12.3"><tspan font-style="italic">c</tspan></tspan><tspan dy="-3.5" font-size="12.3">&#8203;</tspan> ∼ <tspan font-style="italic">N</tspan>(<tspan font-style="italic">μ</tspan><tspan dy="3.5" font-size="13.4"><tspan font-style="italic">c</tspan></tspan><tspan dy="-3.5" font-size="13.4">&#8203;</tspan>, <tspan font-style="italic">σ</tspan><tspan dy="-7.4" font-size="12.7">2</tspan><tspan dy="7.4" font-size="12.7">&#8203;</tspan>)</text>
<text x="315.5" y="292.5" font-size="17.6" class="m" textLength="111" lengthAdjust="spacing"><tspan font-style="italic">x</tspan><tspan dy="3.5" font-size="12.3"><tspan font-style="italic">e</tspan></tspan><tspan dy="-3.5" font-size="12.3">&#8203;</tspan> ∼ <tspan font-style="italic">N</tspan>(<tspan font-style="italic">μ</tspan><tspan dy="3.5" font-size="13.4"><tspan font-style="italic">c</tspan></tspan><tspan dy="-3.5" font-size="13.4">&#8203;</tspan>, <tspan font-style="italic">σ</tspan><tspan dy="-7.4" font-size="12.7">2</tspan><tspan dy="7.4" font-size="12.7">&#8203;</tspan>)</text>
<text x="101.7" y="341.7" font-size="18.6" text-anchor="start" class="mc" font-style="italic">10000</text>
<text x="101.7" y="360.2" font-size="18.4" text-anchor="start" class="mc" >peptide</text>
<text x="210" y="341.7" font-size="18.6" text-anchor="start" class="mc" font-style="italic">3</text>
<text x="210" y="360.2" font-size="18.4" text-anchor="start" class="mc" >control</text>
<text x="350.7" y="341.7" font-size="18.6" text-anchor="start" class="mc" font-style="italic">3</text>
<text x="350.7" y="360.2" font-size="18.4" text-anchor="start" class="mc" >case</text>
</g>
<g class="C">
<line x1="113.3" y1="490.0" x2="163.2" y2="521.2" stroke="#5a5a5a" stroke-width="4.4"/>
<polygon points="172.5,527.0 155.6,529.4 162.7,520.9 167.3,510.8" fill="#5a5a5a"/>
<line x1="166.7" y1="485.0" x2="180.1" y2="501.9" stroke="#5a5a5a" stroke-width="4.4"/>
<polygon points="187.0,510.5 170.3,507.2 179.8,501.5 187.5,493.5" fill="#5a5a5a"/>
<line x1="358.3" y1="480.0" x2="328.1" y2="503.7" stroke="#5a5a5a" stroke-width="4.4"/>
<polygon points="319.5,510.5 322.9,493.8 328.5,503.4 336.5,511.1" fill="#5a5a5a"/>
<line x1="425.0" y1="496.7" x2="341.7" y2="516.5" stroke="#5a5a5a" stroke-width="4.4"/>
<polygon points="331.0,519.0 341.1,505.3 342.2,516.3 346.2,526.7" fill="#5a5a5a"/>
<line x1="206.7" y1="553.3" x2="225.4" y2="608.1" stroke="#5a5a5a" stroke-width="4.4"/>
<polygon points="229.0,618.5 214.4,609.8 225.3,607.6 235.2,602.6" fill="#5a5a5a"/>
<line x1="288.3" y1="546.7" x2="248.7" y2="604.4" stroke="#5a5a5a" stroke-width="4.4"/>
<polygon points="242.5,613.5 240.8,596.6 249.0,604.0 258.9,609.0" fill="#5a5a5a"/>
<rect x="85.7" y="499.3" width="376.6" height="268.0" rx="9" ry="9" fill="none" stroke="#151513" stroke-width="3.4"/>
<rect x="194" y="604" width="243.7" height="156.7" rx="9" ry="9" fill="none" stroke="#151513" stroke-width="3.4"/>
<ellipse cx="104.3" cy="454" rx="24" ry="38.3" fill="#ebebeb" stroke="#151513" stroke-width="3.3"/>
<ellipse cx="165.7" cy="444.3" rx="24" ry="38.3" fill="#ebebeb" stroke="#151513" stroke-width="3.3"/>
<ellipse cx="369.3" cy="444.3" rx="24" ry="38.3" fill="#ebebeb" stroke="#151513" stroke-width="3.3"/>
<ellipse cx="432.7" cy="457.3" rx="24" ry="38.3" fill="#ebebeb" stroke="#151513" stroke-width="3.3"/>
<ellipse cx="194.3" cy="533.3" rx="23.3" ry="23.3" fill="#fff" stroke="#151513" stroke-width="3.3"/>
<ellipse cx="310" cy="532.7" rx="23.3" ry="23.3" fill="#fff" stroke="#151513" stroke-width="3.3"/>
<ellipse cx="240" cy="659.3" rx="26.7" ry="47.3" fill="#fff" stroke="#151513" stroke-width="3.3"/>
<text x="94.0" y="445" font-size="19.5" text-anchor="start" class="m" ><tspan font-style="italic">σ</tspan><tspan dy="-8.2" font-size="14.0">2</tspan><tspan dx="-7.81" dy="13.3" font-size="14.0">0</tspan><tspan dy="-5.1" font-size="14.0">&#8203;</tspan></text>
<text x="104.3" y="474" font-size="19.5" text-anchor="middle" class="m" >4</text>
<text x="155.5" y="433.3" font-size="19.5" text-anchor="start" class="m" ><tspan font-style="italic">μ</tspan><tspan dy="5.3" font-size="14.8">0</tspan><tspan dy="-5.3" font-size="14.8">&#8203;</tspan></text>
<text x="165.2" y="469.8" font-size="19.5" text-anchor="middle" class="m" >16</text>
<text x="369.3" y="436.3" font-size="19.5" text-anchor="middle" class="m" ><tspan font-style="italic">α</tspan></text>
<text x="369.3" y="468.3" font-size="19.5" text-anchor="middle" class="m" >3</text>
<text x="432.7" y="450.3" font-size="19.5" text-anchor="middle" class="m" ><tspan font-style="italic">β</tspan></text>
<text x="432.7" y="482.3" font-size="19.5" text-anchor="middle" class="m" >0.1</text>
<text x="184.8" y="538.3" font-size="19.5" text-anchor="start" class="m" ><tspan font-style="italic">μ</tspan><tspan dy="3.9" font-size="14.8"><tspan font-style="italic">c</tspan></tspan><tspan dy="-3.9" font-size="14.8">&#8203;</tspan></text>
<text x="301" y="541.7" font-size="19.5" text-anchor="start" class="m" ><tspan font-style="italic">σ</tspan><tspan dy="-9.8" font-size="14.0">2</tspan><tspan dy="9.8" font-size="14.0">&#8203;</tspan></text>
<text x="228.5" y="647.8" font-size="29" text-anchor="start" class="m" ><tspan font-style="italic">x</tspan><tspan dy="4.9" font-size="23.2"><tspan font-style="italic">c</tspan></tspan><tspan dy="-4.9" font-size="23.2">&#8203;</tspan></text>
<text x="228.5" y="679.3" font-size="29" text-anchor="start" class="m" ><tspan font-style="italic">x</tspan><tspan dy="4.9" font-size="23.2"><tspan font-style="italic">e</tspan></tspan><tspan dy="-4.9" font-size="23.2">&#8203;</tspan></text>
<text x="96.5" y="588.5" font-size="17.6" class="m" textLength="112" lengthAdjust="spacing"><tspan font-style="italic">μ</tspan><tspan dy="3.5" font-size="13.4"><tspan font-style="italic">c</tspan></tspan><tspan dy="-3.5" font-size="13.4">&#8203;</tspan> ∼ <tspan font-style="italic">N</tspan>(<tspan font-style="italic">μ</tspan><tspan dy="3.5" font-size="13.4">0</tspan><tspan dy="-3.5" font-size="13.4">&#8203;</tspan>, <tspan font-style="italic">σ</tspan><tspan dy="-7.4" font-size="12.7">2</tspan><tspan dx="-7.05" dy="12.0" font-size="12.7">0</tspan><tspan dy="-4.6" font-size="12.7">&#8203;</tspan>)</text>
<text x="316.5" y="580" font-size="17.6" class="m" textLength="104.5" lengthAdjust="spacing"><tspan font-style="italic">σ</tspan><tspan dy="-7.4" font-size="12.7">2</tspan><tspan dy="7.4" font-size="12.7">&#8203;</tspan> ∼ <tspan font-style="italic">IG</tspan>(<tspan font-style="italic">α</tspan>, <tspan font-style="italic">β</tspan>)</text>
<text x="309" y="640" font-size="17.6" class="m" textLength="111" lengthAdjust="spacing"><tspan font-style="italic">x</tspan><tspan dy="3.5" font-size="12.3"><tspan font-style="italic">c</tspan></tspan><tspan dy="-3.5" font-size="12.3">&#8203;</tspan> ∼ <tspan font-style="italic">N</tspan>(<tspan font-style="italic">μ</tspan><tspan dy="3.5" font-size="13.4"><tspan font-style="italic">c</tspan></tspan><tspan dy="-3.5" font-size="13.4">&#8203;</tspan>, <tspan font-style="italic">σ</tspan><tspan dy="-7.4" font-size="12.7">2</tspan><tspan dy="7.4" font-size="12.7">&#8203;</tspan>)</text>
<text x="309" y="680" font-size="17.6" class="m" textLength="111" lengthAdjust="spacing"><tspan font-style="italic">x</tspan><tspan dy="3.5" font-size="12.3"><tspan font-style="italic">e</tspan></tspan><tspan dy="-3.5" font-size="12.3">&#8203;</tspan> ∼ <tspan font-style="italic">N</tspan>(<tspan font-style="italic">μ</tspan><tspan dy="3.5" font-size="13.4"><tspan font-style="italic">c</tspan></tspan><tspan dy="-3.5" font-size="13.4">&#8203;</tspan>, <tspan font-style="italic">σ</tspan><tspan dy="-7.4" font-size="12.7">2</tspan><tspan dy="7.4" font-size="12.7">&#8203;</tspan>)</text>
<text x="96.0" y="733.3" font-size="18.6" text-anchor="start" class="mc" font-style="italic">10000</text>
<text x="96.0" y="751.8" font-size="18.4" text-anchor="start" class="mc" >peptide</text>
<text x="204" y="733.3" font-size="18.6" text-anchor="start" class="mc" font-style="italic">3</text>
<text x="204" y="751.8" font-size="18.4" text-anchor="start" class="mc" >control</text>
<text x="345" y="733.3" font-size="18.6" text-anchor="start" class="mc" font-style="italic">3</text>
<text x="345" y="751.8" font-size="18.4" text-anchor="start" class="mc" >case</text>
</g>
<g class="E">
<path d="M199.1,921.2V889H210.2V897H213.4V791.1H216.5V805H219.0V851.7H221.8V898.4H224.6V902.3H227.8V907.4H230.8V911.6H233.6V913.7H236.4V915.1H239.9V916.2H245.5V917.2H255.2V917.9H324.8V921.2Z" fill="#808080"/>
<line x1="100.4" y1="935.3" x2="152.1" y2="967.2" stroke="#5a5a5a" stroke-width="4.4"/>
<polygon points="161.5,973.0 144.7,975.5 151.7,967.0 156.2,956.8" fill="#5a5a5a"/>
<line x1="156.4" y1="931.0" x2="170.2" y2="948.8" stroke="#5a5a5a" stroke-width="4.4"/>
<polygon points="177.0,957.5 160.3,954.0 169.9,948.4 177.7,940.5" fill="#5a5a5a"/>
<line x1="237.4" y1="939.0" x2="271.2" y2="960.2" stroke="#5a5a5a" stroke-width="4.4"/>
<polygon points="280.5,966.0 263.6,968.4 270.8,959.9 275.3,949.8" fill="#5a5a5a"/>
<line x1="348.6" y1="926.3" x2="319.1" y2="950.1" stroke="#5a5a5a" stroke-width="4.4"/>
<polygon points="310.5,957.0 313.7,940.3 319.5,949.8 327.5,957.4" fill="#5a5a5a"/>
<line x1="419.0" y1="943.3" x2="333.2" y2="964.4" stroke="#5a5a5a" stroke-width="4.4"/>
<polygon points="322.5,967.0 332.5,953.2 333.7,964.3 337.7,974.6" fill="#5a5a5a"/>
<line x1="196.9" y1="1001.0" x2="215.7" y2="1055.1" stroke="#5a5a5a" stroke-width="4.4"/>
<polygon points="219.3,1065.5 204.6,1056.8 215.5,1054.6 225.4,1049.6" fill="#5a5a5a"/>
<line x1="278.2" y1="995.0" x2="240.2" y2="1050.9" stroke="#5a5a5a" stroke-width="4.4"/>
<polygon points="234.0,1060.0 232.2,1043.1 240.5,1050.5 250.4,1055.4" fill="#5a5a5a"/>
<rect x="75.9" y="946.2" width="376.4" height="267.3" rx="9" ry="9" fill="none" stroke="#151513" stroke-width="3.4"/>
<rect x="184.2" y="1051" width="243.9" height="156.4" rx="9" ry="9" fill="none" stroke="#151513" stroke-width="3.4"/>
<ellipse cx="82" cy="904.6" rx="24" ry="38.3" fill="#ebebeb" stroke="#151513" stroke-width="3.3"/>
<ellipse cx="143.4" cy="895.6" rx="24" ry="38.3" fill="#ebebeb" stroke="#151513" stroke-width="3.3"/>
<ellipse cx="358.7" cy="890.2" rx="24" ry="38.3" fill="#ebebeb" stroke="#151513" stroke-width="3.3"/>
<ellipse cx="422" cy="902.8" rx="24" ry="38.3" fill="#ebebeb" stroke="#151513" stroke-width="3.3"/>
<ellipse cx="263.7" cy="876.8" rx="23.5" ry="23.5" fill="#ebebeb" stroke="#151513" stroke-width="3.3"/>
<ellipse cx="184.2" cy="979.4" rx="23.3" ry="23.3" fill="#fff" stroke="#151513" stroke-width="3.3"/>
<ellipse cx="300.6" cy="978.7" rx="23.3" ry="23.3" fill="#fff" stroke="#151513" stroke-width="3.3"/>
<ellipse cx="230.5" cy="1105.1" rx="26.7" ry="47.3" fill="#fff" stroke="#151513" stroke-width="3.3"/>
<line x1="191.6" y1="922" x2="332.8" y2="922" stroke="#151513" stroke-width="2.3"/>
<text x="71.7" y="895.6" font-size="19.5" text-anchor="start" class="m" ><tspan font-style="italic">σ</tspan><tspan dy="-8.2" font-size="14.0">2</tspan><tspan dx="-7.81" dy="13.3" font-size="14.0">0</tspan><tspan dy="-5.1" font-size="14.0">&#8203;</tspan></text>
<text x="82" y="924.6" font-size="19.5" text-anchor="middle" class="m" >4</text>
<text x="133.20000000000002" y="884.6" font-size="19.5" text-anchor="start" class="m" ><tspan font-style="italic">μ</tspan><tspan dy="5.3" font-size="14.8">0</tspan><tspan dy="-5.3" font-size="14.8">&#8203;</tspan></text>
<text x="142.9" y="921.1" font-size="19.5" text-anchor="middle" class="m" >16</text>
<text x="358.7" y="882.2" font-size="19.5" text-anchor="middle" class="m" ><tspan font-style="italic">α</tspan></text>
<text x="358.7" y="914.2" font-size="19.5" text-anchor="middle" class="m" >3</text>
<text x="422" y="895.8" font-size="19.5" text-anchor="middle" class="m" ><tspan font-style="italic">β</tspan></text>
<text x="422" y="927.8" font-size="19.5" text-anchor="middle" class="m" >0.1</text>
<text x="243" y="884.8" font-size="17.6" class="m" textLength="42.5" lengthAdjust="spacing"><tspan font-style="italic">σ</tspan><tspan dy="-6.3" font-size="12.7">2</tspan><tspan dy="6.3" font-size="12.7">&#8203;</tspan>(<tspan font-style="italic">μ</tspan>)</text>
<line x1="243.4" y1="868.5" x2="261.6" y2="868.5" stroke="#222" stroke-width="1.4"/>
<text x="174.7" y="984.4" font-size="19.5" text-anchor="start" class="m" ><tspan font-style="italic">μ</tspan><tspan dy="3.9" font-size="14.8"><tspan font-style="italic">c</tspan></tspan><tspan dy="-3.9" font-size="14.8">&#8203;</tspan></text>
<text x="291.6" y="987.7" font-size="19.5" text-anchor="start" class="m" ><tspan font-style="italic">σ</tspan><tspan dy="-9.8" font-size="14.0">2</tspan><tspan dy="9.8" font-size="14.0">&#8203;</tspan></text>
<text x="219.0" y="1094.1" font-size="29" text-anchor="start" class="m" ><tspan font-style="italic">x</tspan><tspan dy="4.9" font-size="23.2"><tspan font-style="italic">c</tspan></tspan><tspan dy="-4.9" font-size="23.2">&#8203;</tspan></text>
<text x="219.0" y="1134.1" font-size="29" text-anchor="start" class="m" ><tspan font-style="italic">x</tspan><tspan dy="4.9" font-size="23.2"><tspan font-style="italic">e</tspan></tspan><tspan dy="-4.9" font-size="23.2">&#8203;</tspan></text>
<text x="87.4" y="1034.5" font-size="17.6" class="m" textLength="113" lengthAdjust="spacing"><tspan font-style="italic">μ</tspan><tspan dy="3.5" font-size="13.4"><tspan font-style="italic">c</tspan></tspan><tspan dy="-3.5" font-size="13.4">&#8203;</tspan> ∼ <tspan font-style="italic">N</tspan>(<tspan font-style="italic">μ</tspan><tspan dy="3.5" font-size="13.4">0</tspan><tspan dy="-3.5" font-size="13.4">&#8203;</tspan>, <tspan font-style="italic">σ</tspan><tspan dy="-7.4" font-size="12.7">2</tspan><tspan dx="-7.05" dy="12.0" font-size="12.7">0</tspan><tspan dy="-4.6" font-size="12.7">&#8203;</tspan>)</text>
<text x="266.3" y="1029.3" font-size="17.6" class="m" textLength="128.5" lengthAdjust="spacing"><tspan font-style="italic">σ</tspan><tspan dy="-7.4" font-size="12.7">2</tspan><tspan dy="7.4" font-size="12.7">&#8203;</tspan>(<tspan font-style="italic">μ</tspan>) ∼ <tspan font-style="italic">IG</tspan>(<tspan font-style="italic">α</tspan>, <tspan font-style="italic">β</tspan>)</text>
<text x="404.6" y="1015.6" font-size="17.6" class="m" textLength="42.5" lengthAdjust="spacing"><tspan font-style="italic">σ</tspan><tspan dy="-6.3" font-size="12.7">2</tspan><tspan dy="6.3" font-size="12.7">&#8203;</tspan>(<tspan font-style="italic">μ</tspan>)</text>
<line x1="403.8" y1="999.8" x2="423" y2="999.8" stroke="#222" stroke-width="1.4"/>
<line x1="403.9" y1="1023.2" x2="447.6" y2="1023.2" stroke="#111" stroke-width="2.4"/>
<line x1="416.3" y1="1025.8" x2="435.5" y2="1025.8" stroke="#111" stroke-width="3.2"/>
<text x="416.8" y="1042.6" font-size="17.072" text-anchor="start" class="m" ><tspan font-style="italic">σ</tspan><tspan dy="-7.2" font-size="12.3">2</tspan><tspan dy="7.2" font-size="12.3">&#8203;</tspan></text>
<text x="276.4" y="1093.6" font-size="17.6" class="m" textLength="143" lengthAdjust="spacing"><tspan font-style="italic">x</tspan><tspan dy="3.5" font-size="12.3"><tspan font-style="italic">c</tspan></tspan><tspan dy="-3.5" font-size="12.3">&#8203;</tspan> ∼ <tspan font-style="italic">N</tspan>(<tspan font-style="italic">μ</tspan><tspan dy="3.5" font-size="13.4"><tspan font-style="italic">c</tspan></tspan><tspan dy="-3.5" font-size="13.4">&#8203;</tspan>, <tspan font-style="italic">σ</tspan><tspan dy="-7.4" font-size="12.7">2</tspan><tspan dy="7.4" font-size="12.7">&#8203;</tspan>(<tspan font-style="italic">μ</tspan><tspan dy="3.5" font-size="13.4"><tspan font-style="italic">c</tspan></tspan><tspan dy="-3.5" font-size="13.4">&#8203;</tspan>))</text>
<text x="276.4" y="1134" font-size="17.6" class="m" textLength="143" lengthAdjust="spacing"><tspan font-style="italic">x</tspan><tspan dy="3.5" font-size="12.3"><tspan font-style="italic">e</tspan></tspan><tspan dy="-3.5" font-size="12.3">&#8203;</tspan> ∼ <tspan font-style="italic">N</tspan>(<tspan font-style="italic">μ</tspan><tspan dy="3.5" font-size="13.4"><tspan font-style="italic">c</tspan></tspan><tspan dy="-3.5" font-size="13.4">&#8203;</tspan>, <tspan font-style="italic">σ</tspan><tspan dy="-7.4" font-size="12.7">2</tspan><tspan dy="7.4" font-size="12.7">&#8203;</tspan>(<tspan font-style="italic">μ</tspan><tspan dy="3.5" font-size="13.4"><tspan font-style="italic">c</tspan></tspan><tspan dy="-3.5" font-size="13.4">&#8203;</tspan>))</text>
<text x="87.4" y="1181" font-size="18.6" text-anchor="start" class="mc" font-style="italic">10000</text>
<text x="87.4" y="1199.5" font-size="18.4" text-anchor="start" class="mc" >peptide</text>
<text x="195.8" y="1181" font-size="18.6" text-anchor="start" class="mc" font-style="italic">3</text>
<text x="195.8" y="1199.5" font-size="18.4" text-anchor="start" class="mc" >control</text>
<text x="336" y="1181" font-size="18.6" text-anchor="start" class="mc" font-style="italic">3</text>
<text x="336" y="1199.5" font-size="18.4" text-anchor="start" class="mc" >case</text>
</g>
</svg>
</body>
</html>
